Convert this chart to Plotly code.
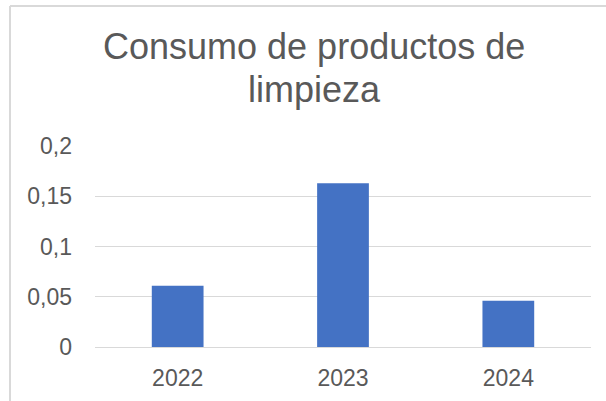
import plotly.graph_objects as go

# Data
years = ["2022", "2023", "2024"]
consumo = [0.061, 0.163, 0.046]
title_lines = ["Consumo de productos de", "limpieza"]

# Layout geometry (pixels in the 606x401 window; body margin removed below)
W, H = 606, 401
L, R, T, B = 95, 15, 146, 54
pw, ph = W - L - R, H - T - B


def px_x(x):
    return (x - L) / pw


def px_y(y):
    return (H - B - y) / ph


GRAY = "#595959"
GRID = "#d9d9d9"
FONT = "Liberation Sans, Arial, sans-serif"

fig = go.Figure(
    go.Bar(
        x=years,
        y=consumo,
        marker=dict(color="#4472C4", line=dict(width=0)),
        hoverinfo="x+y",
    )
)

annotations = []
for txt, ypix in zip(title_lines, [47, 89]):
    annotations.append(
        dict(
            text=txt,
            xref="paper",
            yref="paper",
            x=px_x(314),
            y=px_y(ypix),
            xanchor="center",
            yanchor="middle",
            showarrow=False,
            font=dict(family=FONT, size=36, color=GRAY),
        )
    )

fig.update_layout(
    width=W,
    height=H,
    margin=dict(l=L, r=R, t=T, b=B, pad=0),
    paper_bgcolor="white",
    plot_bgcolor="white",
    separators=",.",
    bargap=0.687,
    showlegend=False,
    font=dict(family=FONT, size=23, color=GRAY),
    annotations=annotations,
    shapes=[
        dict(
            type="line", xref="paper", yref="paper",
            x0=px_x(10), x1=px_x(10), y0=px_y(6), y1=px_y(420),
            line=dict(color=GRID, width=2),
        ),
        dict(
            type="line", xref="paper", yref="paper",
            x0=px_x(10), x1=px_x(620), y0=px_y(6), y1=px_y(6),
            line=dict(color=GRID, width=2),
        ),
    ],
)

fig.update_yaxes(
    range=[0, 0.2],
    dtick=0.05,
    tick0=0,
    automargin=False,
    showgrid=True,
    gridcolor=GRID,
    gridwidth=1.3,
    zeroline=False,
    showline=False,
    ticks="",
    ticklabelstandoff=22,
    tickfont=dict(family=FONT, size=23, color=GRAY),
)
fig.update_xaxes(
    automargin=False,
    showgrid=False,
    showline=True,
    linecolor=GRID,
    linewidth=1.3,
    ticks="",
    ticklabelstandoff=10,
    tickfont=dict(family=FONT, size=23, color=GRAY),
)

fig.write_html(
    "out.html",
    config={"displayModeBar": False},
    post_script="document.body.style.margin='0';document.body.style.overflow='hidden';",
)
